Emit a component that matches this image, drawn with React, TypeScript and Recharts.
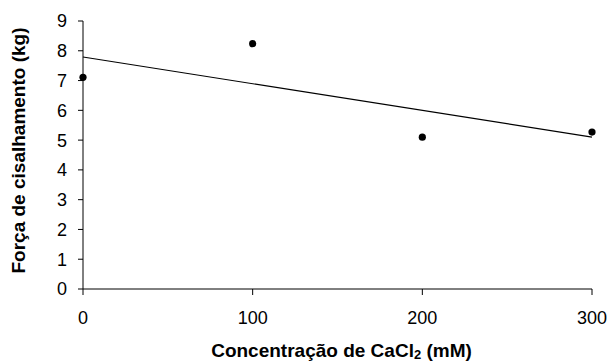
import { ComposedChart, Scatter, XAxis, YAxis, Label } from "recharts";

// CaCl2 concentration (mM) and shear force (kg)
const concentrations = [0, 100, 200, 300];
const shearForce = [7.11, 8.24, 5.1, 5.27];

// linear trend line endpoints
const trendX = [0, 300];
const trendY = [7.79, 5.1];

const xTicks = [0, 100, 200, 300];
const yTicks = [0, 1, 2, 3, 4, 5, 6, 7, 8, 9];

const points = concentrations.map((c, i) => ({ x: c, y: shearForce[i] }));
const trend = trendX.map((c, i) => ({ x: c, y: trendY[i] }));

const FONT = "'Liberation Sans', Arial, sans-serif";

function XTitle(props: any) {
  const { viewBox } = props;
  const cx = viewBox.x + viewBox.width / 2 + 4;
  const y = viewBox.y + 67.5;
  return (
    <text
      x={cx}
      y={y}
      textAnchor="middle"
      fontFamily={FONT}
      fontSize={19}
      fontWeight="bold"
      fill="#000"
    >
      Concentração de CaCl
      <tspan fontSize={13} dy={2}>2</tspan>
      <tspan dy={-2}> (mM)</tspan>
    </text>
  );
}

function YTitle(props: any) {
  const { viewBox } = props;
  const cy = viewBox.y + viewBox.height / 2 - 4.5;
  const x = 25;
  return (
    <text
      x={x}
      y={cy}
      textAnchor="middle"
      transform={`rotate(-90, ${x}, ${cy})`}
      fontFamily={FONT}
      fontSize={19}
      fontWeight="bold"
      fill="#000"
    >
      Força de cisalhamento (kg)
    </text>
  );
}

const Dot = (props: any) => (
  <circle cx={props.cx} cy={props.cy} r={3.6} fill="#000" />
);

export default function App() {
  const tick = { fontSize: 18, fill: "#000", fontFamily: FONT };
  return (
    <div style={{ position: "absolute", left: 0, top: 0, background: "#fff" }}>
      <ComposedChart
        width={611}
        height={363}
        margin={{ top: 21, right: 19, bottom: 0, left: 0 }}
      >
        <XAxis
          type="number"
          dataKey="x"
          domain={[0, 300]}
          ticks={xTicks}
          tick={tick}
          tickSize={6}
          tickMargin={16}
          height={74}
          axisLine={{ stroke: "#000" }}
          tickLine={{ stroke: "#000" }}
        >
          <Label content={<XTitle />} />
        </XAxis>
        <YAxis
          type="number"
          dataKey="y"
          domain={[0, 9]}
          ticks={yTicks}
          tick={tick}
          tickSize={5}
          tickMargin={11}
          width={83}
          interval={0}
          axisLine={{ stroke: "#000" }}
          tickLine={{ stroke: "#000" }}
        >
          <Label content={<YTitle />} />
        </YAxis>
        <Scatter
          data={trend}
          line={{ stroke: "#000", strokeWidth: 1.2 }}
          shape={() => null}
          isAnimationActive={false}
        />
        <Scatter data={points} shape={<Dot />} isAnimationActive={false} />
      </ComposedChart>
    </div>
  );
}
